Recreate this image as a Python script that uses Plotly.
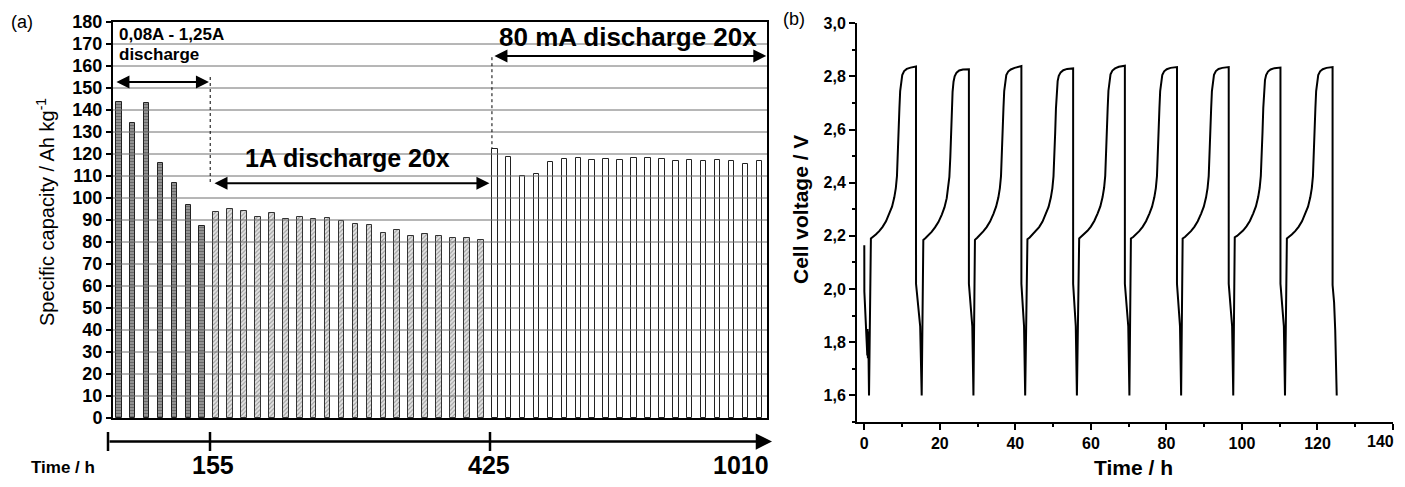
import plotly.graph_objects as go

# ---------------- Panel (a) data ----------------
cycles_initial = [1, 2, 3, 4, 5, 6, 7]
cap_initial = [143.5, 134.0, 143.0, 116.0, 106.8, 97.0, 87.5]

cycles_1A = list(range(8, 28))
cap_1A = [93.8, 95.0, 94.0, 91.5, 93.2, 90.5, 91.4, 90.6, 90.8, 89.6,
          88.3, 87.7, 84.0, 85.5, 82.9, 83.7, 82.6, 81.7, 81.7, 81.1]

cycles_80mA = list(range(28, 48))
cap_80mA = [122.5, 118.6, 109.8, 110.7, 116.3, 117.8, 118.3, 117.2, 117.7, 117.5,
            118.1, 118.0, 117.7, 116.9, 117.1, 116.8, 117.2, 116.6, 115.6, 116.6]

cap_ticks = list(range(0, 181, 10))
time_marks = ["155", "425", "1010"]
time_ticks_b = [0, 20, 40, 60, 80, 100, 120, 140]
volt_ticks = [1.6, 1.8, 2.0, 2.2, 2.4, 2.6, 2.8, 3.0]

# ---------------- Panel (b) data ----------------
time_h = [
    0.0, 0.02, 0.8, 0.85, 0.95, 1.05, 1.25,
    1.75, 2.35, 3.05, 3.95, 4.85, 5.75, 6.65, 7.35, 7.95, 8.35, 8.65, 8.9, 9.1, 9.3, 9.5, 9.75, 10.05, 10.55, 11.25, 12.25, 13.7,
    13.7, 14.8, 15.2,
    15.63, 16.23, 16.93, 17.83, 18.73, 19.63, 20.53, 21.23, 21.83, 22.23, 22.53, 22.78, 22.98, 23.18, 23.38, 23.63, 23.93, 24.43, 25.13, 26.13, 27.7,
    27.7, 28.6, 28.9,
    29.3, 29.9, 30.6, 31.5, 32.4, 33.3, 34.2, 34.9, 35.5, 35.9, 36.2, 36.45, 36.65, 36.85, 37.05, 37.3, 37.6, 38.1, 38.8, 39.8, 41.6,
    41.6, 42.3, 42.6,
    43.2, 43.8, 44.5, 45.4, 46.3, 47.2, 48.1, 48.8, 49.4, 49.8, 50.1, 50.35, 50.55, 50.75, 50.95, 51.2, 51.5, 52.0, 52.7, 53.7, 55.3,
    55.3, 56.0, 56.3,
    56.9, 57.5, 58.2, 59.1, 60.0, 60.9, 61.8, 62.5, 63.1, 63.5, 63.8, 64.05, 64.25, 64.45, 64.65, 64.9, 65.2, 65.7, 66.4, 67.4, 69.0,
    69.0, 69.9, 70.2,
    70.6, 71.2, 71.9, 72.8, 73.7, 74.6, 75.5, 76.2, 76.8, 77.2, 77.5, 77.75, 77.95, 78.15, 78.35, 78.6, 78.9, 79.4, 80.1, 81.1, 82.8,
    82.8, 83.6, 83.9,
    84.3, 84.9, 85.6, 86.5, 87.4, 88.3, 89.2, 89.9, 90.5, 90.9, 91.2, 91.45, 91.65, 91.85, 92.05, 92.3, 92.6, 93.1, 93.8, 94.8, 96.5,
    96.5, 97.4, 97.7,
    98.1, 98.7, 99.4, 100.3, 101.2, 102.1, 103.0, 103.7, 104.3, 104.7, 105.0, 105.25, 105.45, 105.65, 105.85, 106.1, 106.4, 106.9, 107.6, 108.6, 110.2,
    110.2, 111.1, 111.4,
    111.9, 112.5, 113.2, 114.1, 115.0, 115.9, 116.8, 117.5, 118.1, 118.5, 118.8, 119.05, 119.25, 119.45, 119.65, 119.9, 120.2, 120.7, 121.4, 122.4, 124.0,
    124.0, 124.4, 124.7, 125.1,
]
voltage_V = [
    2.165, 1.99, 1.75, 1.85, 1.74, 1.84, 1.60,
    2.19, 2.196, 2.205, 2.218, 2.234, 2.255, 2.284, 2.31, 2.345, 2.38, 2.425, 2.50, 2.59, 2.68, 2.745, 2.785, 2.805, 2.82, 2.828, 2.833, 2.837,
    2.02, 1.86, 1.60,
    2.185, 2.192, 2.202, 2.215, 2.232, 2.252, 2.28, 2.307, 2.342, 2.378, 2.422, 2.497, 2.587, 2.677, 2.742, 2.78, 2.80, 2.814, 2.822, 2.826, 2.827,
    2.02, 1.86, 1.60,
    2.185, 2.193, 2.203, 2.217, 2.233, 2.254, 2.283, 2.31, 2.344, 2.38, 2.425, 2.50, 2.59, 2.68, 2.745, 2.785, 2.805, 2.818, 2.826, 2.832, 2.839,
    2.02, 1.86, 1.60,
    2.187, 2.194, 2.204, 2.217, 2.233, 2.254, 2.283, 2.309, 2.344, 2.379, 2.424, 2.499, 2.589, 2.679, 2.744, 2.782, 2.802, 2.815, 2.823, 2.828, 2.83,
    2.02, 1.86, 1.60,
    2.19, 2.197, 2.206, 2.219, 2.235, 2.256, 2.285, 2.311, 2.346, 2.381, 2.426, 2.501, 2.591, 2.681, 2.746, 2.787, 2.808, 2.822, 2.83, 2.836, 2.84,
    2.02, 1.86, 1.60,
    2.19, 2.196, 2.205, 2.218, 2.234, 2.255, 2.284, 2.31, 2.345, 2.38, 2.425, 2.50, 2.59, 2.68, 2.745, 2.785, 2.805, 2.819, 2.827, 2.832, 2.835,
    2.02, 1.86, 1.60,
    2.19, 2.196, 2.205, 2.218, 2.234, 2.255, 2.284, 2.31, 2.345, 2.38, 2.425, 2.50, 2.59, 2.68, 2.745, 2.785, 2.806, 2.82, 2.828, 2.832, 2.835,
    2.02, 1.86, 1.60,
    2.195, 2.2, 2.208, 2.22, 2.236, 2.256, 2.285, 2.311, 2.346, 2.381, 2.426, 2.501, 2.591, 2.681, 2.746, 2.786, 2.805, 2.818, 2.826, 2.831, 2.833,
    2.02, 1.86, 1.60,
    2.19, 2.196, 2.205, 2.218, 2.234, 2.255, 2.284, 2.31, 2.345, 2.38, 2.425, 2.50, 2.59, 2.68, 2.745, 2.785, 2.805, 2.819, 2.827, 2.832, 2.835,
    2.015, 1.95, 1.845, 1.60,
]

# ---------------- Figure ----------------
OFF = 8                      # default page body margin of the browser
W, H = 1405 - OFF, 487 - OFF
FONT = "Liberation Sans, Arial, sans-serif"


def px_x(p):
    """reference pixel x -> paper x"""
    return (p - OFF) / W


def px_y(p):
    """reference pixel y -> paper y (plot area spans ref px 22..422)"""
    return (422 - p) / 400


fig = go.Figure()

fig.add_trace(go.Bar(
    x=cycles_initial, y=cap_initial, width=0.4, xaxis="x", yaxis="y",
    marker=dict(color="#8c8c8c", line=dict(color="#222", width=1),
                pattern=dict(shape="-", fgcolor="#383838", bgcolor="#9a9a9a", size=3, solidity=0.45)),
    showlegend=False))
fig.add_trace(go.Bar(
    x=cycles_1A, y=cap_1A, width=0.4, xaxis="x", yaxis="y",
    marker=dict(color="#d8d8d8", line=dict(color="#333", width=1),
                pattern=dict(shape="/", fgcolor="#555", bgcolor="#e2e2e2", size=3, solidity=0.35)),
    showlegend=False))
fig.add_trace(go.Bar(
    x=cycles_80mA, y=cap_80mA, width=0.4, xaxis="x", yaxis="y",
    marker=dict(color="white", line=dict(color="#222", width=1)),
    showlegend=False))

fig.add_trace(go.Scatter(
    x=time_h, y=voltage_V, mode="lines", xaxis="x2", yaxis="y2",
    line=dict(color="black", width=2), showlegend=False))

# last x tick label of panel (b) is drawn as an annotation so it stays inside the page
tick_text_b = [str(t) for t in time_ticks_b[:-1]] + [""]

layout = dict(
    width=W, height=H, margin=dict(l=0, r=0, t=22 - OFF, b=H - (422 - OFF)),
    paper_bgcolor="white", plot_bgcolor="white",
    separators=",.", bargap=0,
    font=dict(family=FONT, color="black"),
    xaxis=dict(domain=[px_x(113), px_x(767)], range=[0.59, 47.55], showticklabels=False,
               ticks="", showgrid=False, zeroline=False, showline=True, linecolor="black",
               linewidth=2, mirror=True),
    yaxis=dict(domain=[0.01, 1.0], range=[0, 180], tickvals=cap_ticks, ticks="outside",
               ticklen=5, tickwidth=1.5, tickcolor="black", showgrid=False, zeroline=False,
               showline=True, linecolor="black", linewidth=2, mirror=True,
               tickfont=dict(family=FONT, size=18, color="black", weight="bold")),
    xaxis2=dict(domain=[px_x(857), px_x(1393)], range=[-1.93, 140], anchor="y2",
                tickvals=time_ticks_b, ticktext=tick_text_b, ticks="outside", ticklen=6,
                tickwidth=2, tickcolor="black", showgrid=False, zeroline=False,
                showline=True, linecolor="black", linewidth=2,
                minor=dict(dtick=10, ticks="outside", ticklen=3, tickwidth=2, tickcolor="black"),
                tickfont=dict(family=FONT, size=16, color="black", weight="bold")),
    yaxis2=dict(domain=[0.0, 0.997], range=[1.5, 3.0], anchor="x2",
                tickvals=volt_ticks, tickformat=".1f",
                ticks="outside", ticklen=6, tickwidth=2, tickcolor="black",
                showgrid=False, zeroline=False, showline=True, linecolor="black", linewidth=2,
                minor=dict(dtick=0.1, ticks="outside", ticklen=3, tickwidth=2, tickcolor="black"),
                tickfont=dict(family=FONT, size=16, color="black", weight="bold")),
)
fig.update_layout(**layout)

shapes = []
# horizontal grid lines drawn over the bars
for v in cap_ticks[1:-1]:
    shapes.append(dict(type="line", xref="x domain", yref="y", x0=0, x1=1, y0=v, y1=v,
                       line=dict(color="#6e6e6e", width=1), layer="above"))
# dotted separators
shapes.append(dict(type="line", xref="x", yref="y", x0=7.57, x1=7.57, y0=155, y1=106.5,
                   line=dict(color="black", width=1, dash="dot"), layer="above"))
shapes.append(dict(type="line", xref="x", yref="y", x0=27.8, x1=27.8, y0=164, y1=122.5,
                   line=dict(color="black", width=1, dash="dot"), layer="above"))

# time axis ticks below panel (a)
for p in [108, 210, 490]:
    shapes.append(dict(type="line", xref="paper", yref="paper", x0=px_x(p), x1=px_x(p),
                       y0=px_y(432), y1=px_y(451), line=dict(color="black", width=2.5)))
fig.update_layout(shapes=shapes)

ann = []


def txt(x, y, text, size, xanchor="center", yanchor="middle", angle=0, ref="paper"):
    return dict(xref=ref if ref == "paper" else "x", yref=ref if ref == "paper" else "y",
                x=x, y=y, text=text, showarrow=False, xanchor=xanchor, yanchor=yanchor,
                textangle=angle, font=dict(family=FONT, size=size, color="black"))


# main time arrow
ann.append(dict(xref="paper", yref="paper", x=px_x(772), y=px_y(441.5), ax=-664, ay=0,
                axref="pixel", ayref="pixel", text="", showarrow=True, arrowhead=2,
                arrowsize=1.3, arrowwidth=2.5, arrowcolor="black"))
ann.append(txt(px_x(63), px_y(467), "<b>Time / h</b>", 17))
for lbl, p in zip(time_marks, [213, 489, 741]):
    ann.append(txt(px_x(p), px_y(465), "<b>%s</b>" % lbl, 25))


# double-headed arrows in panel (a)
def dbl_arrow(x0, x1, y):
    return dict(xref="x", yref="y", axref="x", ayref="y", x=x1, y=y, ax=x0, ay=y, text="",
                showarrow=True, arrowhead=2, startarrowhead=2, arrowside="end+start",
                arrowsize=1.3, startarrowsize=1.3, arrowwidth=2, arrowcolor="black")


ann.append(dbl_arrow(0.73, 7.48, 152.7))
ann.append(dbl_arrow(7.77, 27.62, 106.7))
ann.append(dbl_arrow(27.87, 47.5, 164.6))

ann.append(txt(0.9, 174.5, "<b>0,08A - 1,25A</b>", 17, xanchor="left", ref="x"))
ann.append(txt(0.9, 165.2, "<b>discharge</b>", 17, xanchor="left", ref="x"))
ann.append(txt(17.46, 118.2, "<b>1A discharge 20x</b>", 25, ref="x"))
ann.append(txt(37.56, 173.4, "<b>80 mA discharge 20x</b>", 26, ref="x"))

# last tick label of panel (b) x axis
ann.append(txt(px_x(1396), px_y(441), "<b>%d</b>" % time_ticks_b[-1], 16, xanchor="right"))

# axis titles
ann.append(txt(px_x(45), px_y(212), "Specific capacity / Ah kg<sup>-1</sup>", 20, angle=-90))
ann.append(txt(px_x(800), px_y(210), "<b>Cell voltage / V</b>", 21, angle=-90))
ann.append(txt(px_x(1133), px_y(467), "<b>Time / h</b>", 21))

# panel labels
ann.append(txt(px_x(22), px_y(22), "(a)", 18))
ann.append(txt(px_x(794), px_y(19), "(b)", 18))

fig.update_layout(annotations=ann)

fig.write_html("out.html", config={"displayModeBar": False})
